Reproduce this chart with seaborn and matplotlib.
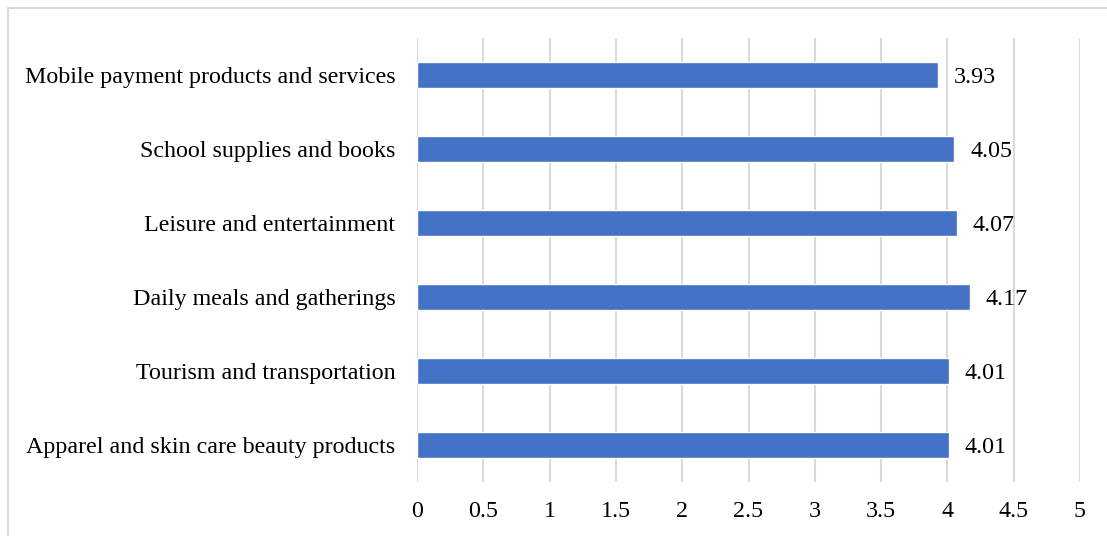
import matplotlib
matplotlib.use("Agg")
import matplotlib.pyplot as plt
from matplotlib.patches import Rectangle
import seaborn as sns
import pandas as pd

categories = [
    "Mobile payment products and services",
    "School supplies and books",
    "Leisure and entertainment",
    "Daily meals and gatherings",
    "Tourism and transportation",
    "Apparel and skin care beauty products",
]
scores = [3.93, 4.05, 4.07, 4.17, 4.01, 4.01]
x_ticks = [0, 0.5, 1, 1.5, 2, 2.5, 3, 3.5, 4, 4.5, 5]
x_tick_labels = ["0", "0.5", "1", "1.5", "2", "2.5", "3", "3.5", "4", "4.5", "5"]

df = pd.DataFrame({"category": categories, "score": scores})

sns.set_style("white")
plt.rcParams["font.family"] = ["Liberation Serif", "DejaVu Serif"]

FS = 17.3
W, H = 1107, 536
fig = plt.figure(figsize=(W / 100, H / 100), dpi=100)
ax = fig.add_axes([417 / W, 1 - 482 / H, (1080 - 417) / W, (482 - 38) / H])

sns.barplot(data=df, x="score", y="category", orient="h", color="#4472C4",
            saturation=1, width=0.36, ax=ax, zorder=3)

ax.set_xlim(0, 5)
ax.set_ylim(5.5, -0.5)
ax.set_xticks(x_ticks)
ax.set_xticklabels(x_tick_labels)
ax.xaxis.grid(True, color="#d9d9d9", linewidth=1.5, zorder=0)
ax.yaxis.grid(False)
for s in ax.spines.values():
    s.set_visible(False)
ax.tick_params(axis="both", length=0, labelsize=FS, colors="black")
ax.tick_params(axis="x", pad=14)
ax.tick_params(axis="y", pad=15.5)
ax.set_xlabel("")
ax.set_ylabel("")

for i, v in enumerate(scores):
    ax.annotate(f"{v:.2f}", xy=(v, i), xytext=(11.5, 0), textcoords="offset points",
                ha="left", va="center_baseline", fontsize=FS, color="black")

# outer chart frame
fig.patches.append(Rectangle((8 / W, -0.1), 1.2, 1 - 8 / H + 0.1,
                             transform=fig.transFigure, fill=False,
                             edgecolor="#d9d9d9", linewidth=1.5))

fig.savefig("out.png", dpi=100)
